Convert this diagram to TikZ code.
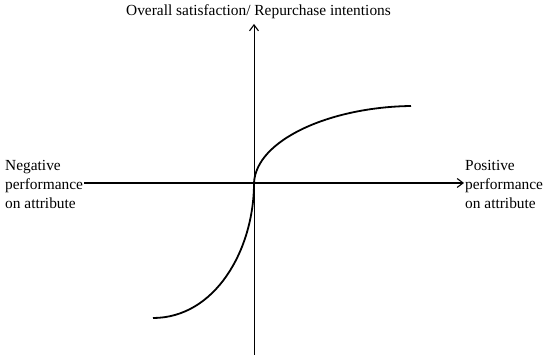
\documentclass[tikz,border=0pt]{standalone}
\usepackage{fontspec}
\setmainfont{Liberation Serif}
\usetikzlibrary{arrows.meta}
\begin{document}
\begin{tikzpicture}[x=1pt,y=-1pt,
  lbl/.style={font=\fontsize{15.4}{19}\selectfont, inner sep=1pt},
  axis/.style={line width=1.2pt, -{Straight Barb[length=6pt,width=9pt,line width=1.1pt]}},
  curve/.style={line width=1.8pt}]
\useasboundingbox (0,0) rectangle (550,358);
\node[lbl, anchor=center] (title) at (258.5,12) {Overall satisfaction/ Repurchase intentions};
\node[lbl, anchor=west, align=left] (neg) at (4,184) {Negative\\performance\\on attribute};
\node[lbl, anchor=west, align=left] (pos) at (464,184) {Positive\\performance\\on attribute};
\coordinate (bottom) at (254,355);
\coordinate (top) at (254,24);
\draw[axis, line width=0.9pt] (bottom) -- (top);
\draw[axis] (neg.east |- 0,183) -- (pos.west |- 0,183);
\coordinate (o) at (254,183);
\coordinate (s) at (153,318);
\coordinate (e) at (411,106);
\draw[curve] (s) .. controls (215,318) and (254,250) .. (o)
  .. controls (256,140) and (330,107) .. (e);
\end{tikzpicture}
\end{document}
